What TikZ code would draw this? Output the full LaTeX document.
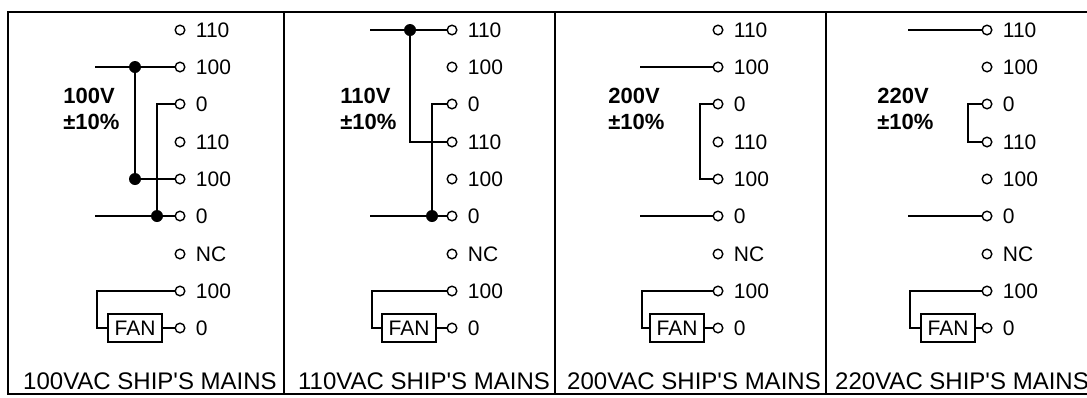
\documentclass[tikz,border=0pt]{standalone}
\usepackage{fontspec}
\setmainfont{Liberation Sans}
\usetikzlibrary{positioning}

\begin{document}
\begin{tikzpicture}[x=0.5pt,y=-0.5pt,
		wire/.style={line width=0.8pt},
		frame/.style={line width=1.2pt},
		term/.style={circle,draw,line width=0.7pt,inner sep=0pt,minimum size=4.8pt},
		tag/.style={font=\fontsize{10.5}{12}\selectfont,inner sep=0pt},
		junc/.style={circle,fill,inner sep=0pt,minimum size=6pt},
		fanbox/.style={draw,line width=0.7pt,minimum width=27pt,minimum height=14pt,inner sep=0pt,font=\fontsize{10.5}{12}\selectfont},
		volt/.style={font=\fontsize{11}{13}\selectfont\bfseries,align=left,anchor=west,inner sep=0pt},
		mains/.style={font=\fontsize{12}{14}\selectfont,inner sep=0pt},
		every label/.style={label distance=5pt}]
		\useasboundingbox (0,0) rectangle (1087,397);
		
		% The frame
		\draw[frame] (8,12) rectangle (1094,394);
		\draw[frame] (284,12) -- (284,394);
		\draw[frame] (555,12) -- (555,394);
		\draw[frame] (826,12) -- (826,394);
		
		% 100 V
		\begin{scope}[xshift=90pt]
			\node[term,label={[tag]right:110}] (a-t1) at (0,30) {};
			\node[term,label={[tag]right:100}] (a-t2) at (0,67) {};
			\node[term,label={[tag]right:0}] (a-t3) at (0,104) {};
			\node[term,label={[tag]right:110}] (a-t4) at (0,142) {};
			\node[term,label={[tag]right:100}] (a-t5) at (0,179) {};
			\node[term,label={[tag]right:0}] (a-t6) at (0,216) {};
			\node[term,label={[tag]right:NC}] (a-t7) at (0,254) {};
			\node[term,label={[tag]right:100}] (a-t8) at (0,291) {};
			\node[term,label={[tag]right:0}] (a-t9) at (0,328) {};
			\node[volt] (a-v) at (-117,109) {100V\\±10\%};
			\coordinate (a-in1) at (-85,67);
			\coordinate (a-in2) at (-85,216);
			\coordinate (a-k) at (-83,291);
			\node[junc] (a-j1) at (-45,67) {};
			\node[junc] (a-j2) at (-45,179) {};
			\node[junc] (a-j3) at (-23,216) {};
			\node[fanbox] (a-fan) at (-45,328) {FAN};
			\draw[wire] (a-in1) -- (a-j1) -- (a-t2);
			\draw[wire] (a-j1) -- (a-j2) -- (a-t5);
			\draw[wire] (a-t3) -| (a-j3);
			\draw[wire] (a-in2) -- (a-j3) -- (a-t6);
			\draw[wire] (a-t8) -- (a-k) |- (a-fan);
			\draw[wire] (a-fan) -- (a-t9);
		\end{scope}
		
		% 110 V
		\begin{scope}[xshift=226pt]
			\node[term,label={[tag]right:110}] (b-t1) at (0,30) {};
			\node[term,label={[tag]right:100}] (b-t2) at (0,67) {};
			\node[term,label={[tag]right:0}] (b-t3) at (0,104) {};
			\node[term,label={[tag]right:110}] (b-t4) at (0,142) {};
			\node[term,label={[tag]right:100}] (b-t5) at (0,179) {};
			\node[term,label={[tag]right:0}] (b-t6) at (0,216) {};
			\node[term,label={[tag]right:NC}] (b-t7) at (0,254) {};
			\node[term,label={[tag]right:100}] (b-t8) at (0,291) {};
			\node[term,label={[tag]right:0}] (b-t9) at (0,328) {};
			\node[volt] (b-v) at (-112,109) {110V\\±10\%};
			\coordinate (b-in1) at (-82,30);
			\coordinate (b-in2) at (-82,216);
			\coordinate (b-k) at (-80,291);
			\node[junc] (b-j1) at (-42,30) {};
			\node[junc] (b-j3) at (-20,216) {};
			\node[fanbox] (b-fan) at (-43,328) {FAN};
			\draw[wire] (b-in1) -- (b-j1) -- (b-t1);
			\draw[wire] (b-j1) |- (b-t4);
			\draw[wire] (b-t3) -| (b-j3);
			\draw[wire] (b-in2) -- (b-j3) -- (b-t6);
			\draw[wire] (b-t8) -- (b-k) |- (b-fan);
			\draw[wire] (b-fan) -- (b-t9);
		\end{scope}
		
		% 200 V
		\begin{scope}[xshift=359pt]
			\node[term,label={[tag]right:110}] (c-t1) at (0,30) {};
			\node[term,label={[tag]right:100}] (c-t2) at (0,67) {};
			\node[term,label={[tag]right:0}] (c-t3) at (0,104) {};
			\node[term,label={[tag]right:110}] (c-t4) at (0,142) {};
			\node[term,label={[tag]right:100}] (c-t5) at (0,179) {};
			\node[term,label={[tag]right:0}] (c-t6) at (0,216) {};
			\node[term,label={[tag]right:NC}] (c-t7) at (0,254) {};
			\node[term,label={[tag]right:100}] (c-t8) at (0,291) {};
			\node[term,label={[tag]right:0}] (c-t9) at (0,328) {};
			\node[volt] (c-v) at (-110,109) {200V\\±10\%};
			\coordinate (c-in1) at (-78,67);
			\coordinate (c-in2) at (-78,216);
			\coordinate (c-b5) at (-18,179);
			\coordinate (c-k) at (-76,291);
			\node[fanbox] (c-fan) at (-41,328) {FAN};
			\draw[wire] (c-in1) -- (c-t2);
			\draw[wire] (c-t3) -| (c-b5) -- (c-t5);
			\draw[wire] (c-in2) -- (c-t6);
			\draw[wire] (c-t8) -- (c-k) |- (c-fan);
			\draw[wire] (c-fan) -- (c-t9);
		\end{scope}
		
		% 220 V
		\begin{scope}[xshift=493.5pt]
			\node[term,label={[tag]right:110}] (d-t1) at (0,30) {};
			\node[term,label={[tag]right:100}] (d-t2) at (0,67) {};
			\node[term,label={[tag]right:0}] (d-t3) at (0,104) {};
			\node[term,label={[tag]right:110}] (d-t4) at (0,142) {};
			\node[term,label={[tag]right:100}] (d-t5) at (0,179) {};
			\node[term,label={[tag]right:0}] (d-t6) at (0,216) {};
			\node[term,label={[tag]right:NC}] (d-t7) at (0,254) {};
			\node[term,label={[tag]right:100}] (d-t8) at (0,291) {};
			\node[term,label={[tag]right:0}] (d-t9) at (0,328) {};
			\node[volt] (d-v) at (-110,109) {220V\\±10\%};
			\coordinate (d-in1) at (-79,30);
			\coordinate (d-in2) at (-79,216);
			\coordinate (d-b4) at (-19,142);
			\coordinate (d-k) at (-77,291);
			\node[fanbox] (d-fan) at (-39,328) {FAN};
			\draw[wire] (d-in1) -- (d-t1);
			\draw[wire] (d-t3) -| (d-b4) -- (d-t4);
			\draw[wire] (d-in2) -- (d-t6);
			\draw[wire] (d-t8) -- (d-k) |- (d-fan);
			\draw[wire] (d-fan) -- (d-t9);
		\end{scope}
		
		% Captions
		\node[mains] (cap1) at (150,381) {100VAC SHIP\textquotesingle S MAINS};
		\node[mains] (cap2) at (424,381) {110VAC SHIP\textquotesingle S MAINS};
		\node[mains] (cap3) at (694,381) {200VAC SHIP\textquotesingle S MAINS};
		\node[mains] (cap4) at (962,381) {220VAC SHIP\textquotesingle S MAINS};
	\end{tikzpicture}
\end{document}
